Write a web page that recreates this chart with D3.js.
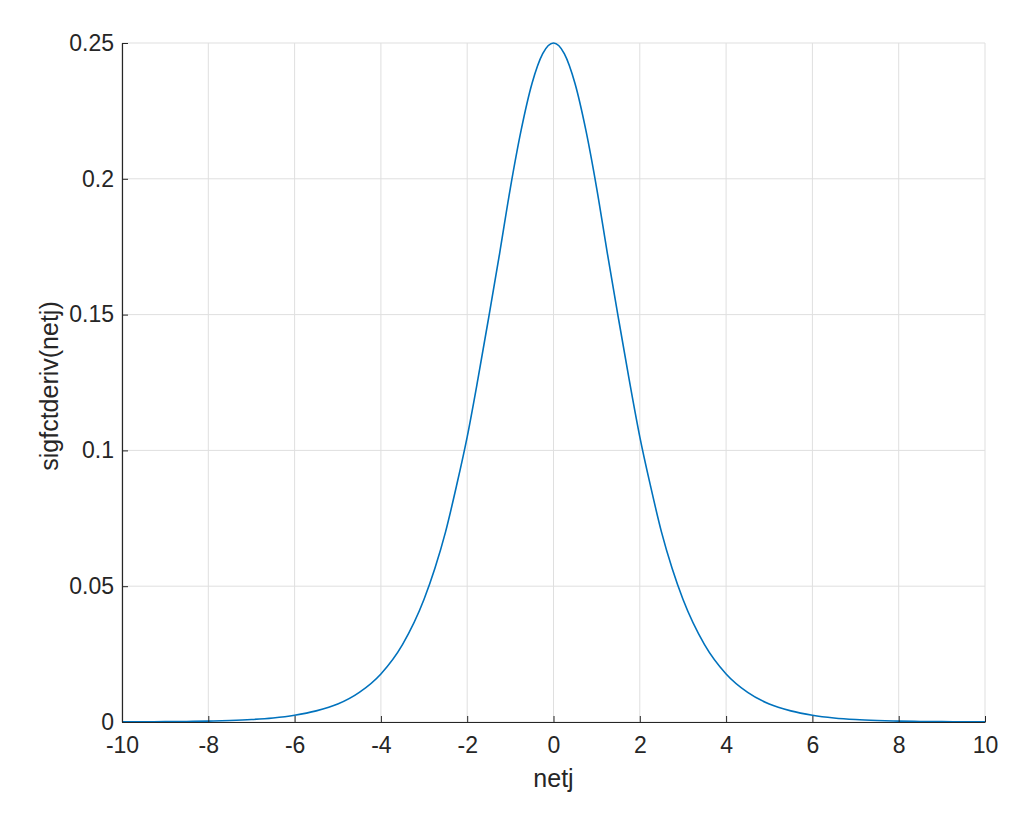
<!DOCTYPE html>
<html><head><meta charset="utf-8">
<script src="https://cdn.jsdelivr.net/npm/d3@7"></script>
<style>body{margin:0;background:#fff;} svg{display:block;font-family:"Liberation Sans",Arial,Helvetica,sans-serif;}</style>
</head><body>
<svg id="c" width="1024" height="814"></svg>
<script>
const netj = [-10,-9.5,-9,-8.5,-8,-7.5,-7,-6.5,-6,-5.5,-5,-4.5,-4,-3.5,-3,-2.75,-2.5,-2.25,-2,-1.75,-1.5,-1.25,-1,-0.75,-0.5,-0.25,0,0.25,0.5,0.75,1,1.25,1.5,1.75,2,2.25,2.5,2.75,3,3.5,4,4.5,5,5.5,6,6.5,7,7.5,8,8.5,9,9.5,10];
const sigd = [0.000045,0.000075,0.00012,0.0002,0.00034,0.00055,0.0009,0.0015,0.0025,0.0041,0.0066,0.0109,0.0177,0.0285,0.0452,0.0565,0.0701,0.0868,0.1050,0.1264,0.1491,0.1724,0.1966,0.2179,0.2350,0.2461,0.25,0.2461,0.2350,0.2179,0.1966,0.1724,0.1491,0.1264,0.1050,0.0868,0.0701,0.0565,0.0452,0.0285,0.0177,0.0109,0.0066,0.0041,0.0025,0.0015,0.0009,0.00055,0.00034,0.0002,0.00012,0.000075,0.000045];
const xTicks = [-10,-8,-6,-4,-2,0,2,4,6,8,10];
const yTicks = [0,0.05,0.1,0.15,0.2,0.25];

const svg = d3.select("#c");
const L=122, R=985, T=43, B=722;
const x = d3.scaleLinear().domain([-10,10]).range([L,R]);
const y = d3.scaleLinear().domain([0,0.25]).range([B,T]);
const FONT = "'Liberation Sans',Arial,Helvetica,sans-serif";

const g = svg.append("g");
g.selectAll(".gx").data(xTicks).enter().append("line")
 .attr("x1",d=>x(d)).attr("x2",d=>x(d)).attr("y1",T).attr("y2",B)
 .attr("stroke","#dfdfdf").attr("stroke-width",1);
g.selectAll(".gy").data(yTicks).enter().append("line")
 .attr("x1",L).attr("x2",R).attr("y1",d=>y(d)).attr("y2",d=>y(d))
 .attr("stroke","#dfdfdf").attr("stroke-width",1);

svg.append("path").datum(netj.map((v,i)=>[v,sigd[i]]))
 .attr("fill","none").attr("stroke","#0072BD").attr("stroke-width",1.6)
 .attr("d", d3.line().x(d=>x(d[0])).y(d=>y(d[1])).curve(d3.curveMonotoneX));

const fmtX = d=>String(d);
const fmtY = d=>d===0?"0":String(d);
const xa = svg.append("g").attr("transform",`translate(0,${B})`)
 .call(d3.axisBottom(x).tickValues(xTicks).tickFormat(fmtX).tickSizeInner(-6).tickSizeOuter(0).tickPadding(15));
const ya = svg.append("g").attr("transform",`translate(${L},0)`)
 .call(d3.axisLeft(y).tickValues(yTicks).tickFormat(fmtY).tickSizeInner(-6).tickSizeOuter(0).tickPadding(8));
[xa,ya].forEach(a=>{
  a.selectAll("path.domain").attr("stroke","#262626").attr("stroke-width",1.2);
  a.selectAll(".tick line").attr("stroke","#262626").attr("stroke-width",1);
  a.selectAll("text").attr("fill","#262626").style("font-size","23px").style("font-family",FONT);
});

svg.append("text").attr("x",(L+R)/2).attr("y",787).attr("text-anchor","middle")
 .attr("fill","#262626").style("font-size","25px").style("font-family",FONT).text("netj");
svg.append("text").attr("transform",`translate(58,386) rotate(-90)`).attr("text-anchor","middle")
 .attr("fill","#262626").style("font-size","25px").style("font-family",FONT).text("sigfctderiv(netj)");
</script>
</body></html>
